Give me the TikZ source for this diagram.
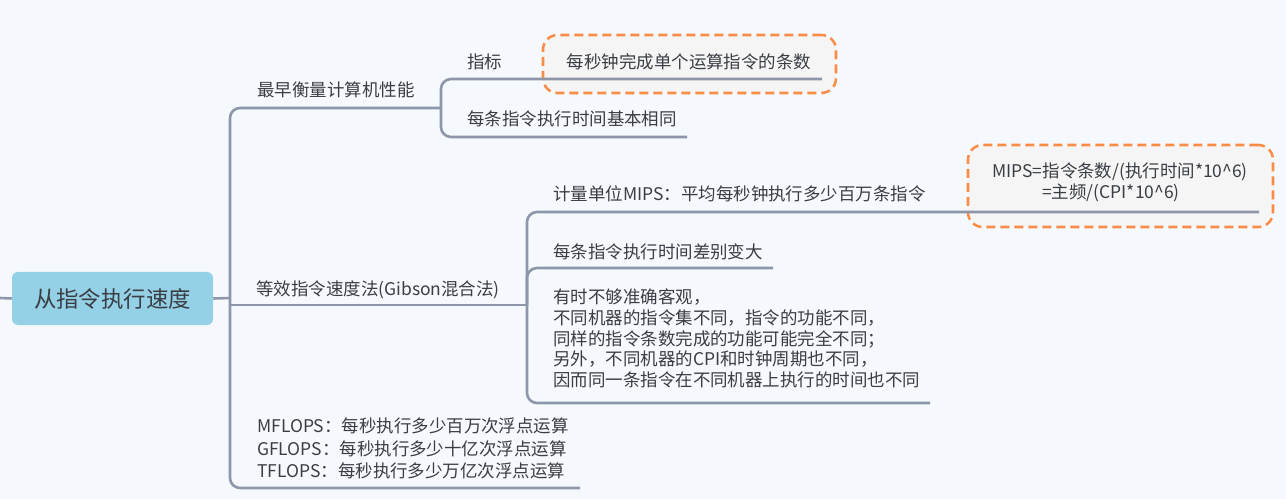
\documentclass[tikz,border=0pt]{standalone}
\usepackage{fontspec}
\setmainfont{Noto Sans CJK SC}
\definecolor{bgc}{HTML}{F5F9FD}
\definecolor{linec}{HTML}{8E97A9}
\definecolor{textc}{HTML}{3A3E44}
\definecolor{rootc}{HTML}{94D0E6}
\definecolor{orc}{HTML}{F98D48}
\definecolor{boxc}{HTML}{F5F5F5}
\tikzset{
  conn/.style={draw=linec, line width=1.95pt, rounded corners=7.5pt},
  topic/.style={anchor=west, inner sep=0pt, text=textc, font=\fontsize{13.1pt}{15.5pt}\selectfont},
  hlbox/.style={draw=orc, line width=1.9pt, dash pattern=on 6.75pt off 3.75pt, fill=boxc, rounded corners=11pt, inner sep=0pt},
  rootbox/.style={fill=rootc, rounded corners=4.5pt, minimum width=150.75pt, minimum height=39.75pt, inner sep=0pt, text=textc, font=\fontsize{16.8pt}{20pt}\selectfont}
}
\begin{document}
\begin{tikzpicture}[x=0.75pt,y=-0.75pt]
\fill[bgc] (0,0) rectangle (1286,499);
\useasboundingbox (0,0) rectangle (1286,499);
% junctions and free ends
\coordinate (edgeL) at (0,298);
\coordinate (J0) at (230,298);
\coordinate (J0b) at (230,305);
\coordinate (JA) at (441,108);
\coordinate (JB) at (527,305);
\coordinate (a1End) at (822,79);
\coordinate (a2End) at (687,137);
\coordinate (b1End) at (1259,212);
\coordinate (b2End) at (773,268);
\coordinate (b3End) at (930,403);
\coordinate (cEnd) at (580,488);

\node[rootbox] (root) at (112.5,298.5) {从指令执行速度};
\node[hlbox, minimum width=219.75pt, minimum height=43.5pt] (hl1) at (689.5,64) {};
\node[hlbox, minimum width=228.75pt, minimum height=61.5pt] (hl2) at (1120.5,186) {};

% connectors
\draw[conn] (edgeL) -- (root.west);
\draw[conn] (root.east) -- (J0);
\draw[conn] (J0) |- (JA);
\draw[conn] (J0b) -- (JB);
\draw[conn] (J0) |- (cEnd);
\draw[conn] (JA) |- (a1End);
\draw[conn] (JA) |- (a2End);
\draw[conn] (JB) |- (b1End);
\draw[conn] (JB) |- (b2End);
\draw[conn] (JB) |- (b3End);

% texts
\node[topic] (a) at (257,90) {最早衡量计算机性能};
\node[topic] (a1) at (467,62) {指标};
\node[topic, anchor=center] (a1x) at (689,62) {每秒钟完成单个运算指令的条数};
\node[topic] (a2) at (467,119) {每条指令执行时间基本相同};
\node[topic] (b) at (256,290) {等效指令速度法(Gibson混合法)};
\node[topic] (b1) at (553,194) {计量单位MIPS：平均每秒钟执行多少百万条指令};
\node[topic, align=left, font=\fontsize{13.1pt}{15.75pt}\selectfont] (b1x) at (992,182.5) {MIPS=指令条数/(执行时间*10\textasciicircum 6)\\\hspace*{37.5pt}=主频/(CPI*10\textasciicircum 6)};
\node[topic] (b2) at (553,252) {每条指令执行时间差别变大};
\node[topic, align=left, font=\fontsize{13.1pt}{15.5pt}\selectfont] (b3) at (553,338.5) {有时不够准确客观，\\不同机器的指令集不同，指令的功能不同，\\同样的指令条数完成的功能可能完全不同；\\另外，不同机器的CPI和时钟周期也不同，\\因而同一条指令在不同机器上执行的时间也不同};
\node[topic, align=left, font=\fontsize{13.1pt}{16.9pt}\selectfont] (c) at (257,448.5) {MFLOPS：每秒执行多少百万次浮点运算\\GFLOPS：每秒执行多少十亿次浮点运算\\TFLOPS：每秒执行多少万亿次浮点运算};
\end{tikzpicture}
\end{document}
